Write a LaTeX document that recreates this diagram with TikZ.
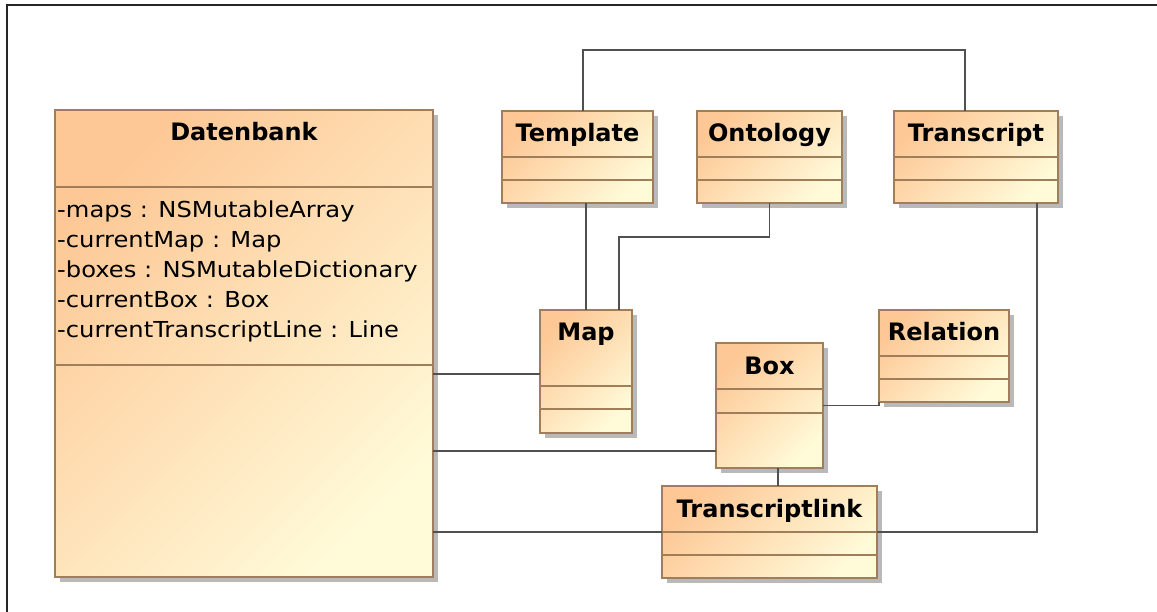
\documentclass[tikz,border=0pt]{standalone}
\usepackage{fontspec}
\setmainfont{DejaVu Sans}
\newfontfamily\attrfont[FakeStretch=1.1]{DejaVu Sans}
\usetikzlibrary{shadows,calc}

\definecolor{clsborder}{RGB}{160,126,90}
\definecolor{clstop}{RGB}{253,200,150}
\definecolor{clsbottom}{RGB}{255,250,216}
\definecolor{assocline}{RGB}{80,80,80}
\definecolor{shadowgray}{RGB}{185,185,185}

\tikzset{
  clsbox/.style={rectangle, draw=clsborder, line width=1.8pt, inner sep=0pt, outer sep=0pt,
    top color=clstop, bottom color=clsbottom, shading angle=45,
    drop shadow={shadow xshift=5pt, shadow yshift=-5pt, fill=shadowgray, opacity=1}},
  divider/.style={draw=clsborder, line width=1.8pt},
  clstitle/.style={anchor=base, inner sep=0pt, font=\bfseries\fontsize{24}{24}\selectfont},
  attr/.style={anchor=base west, inner sep=0pt, font=\attrfont\fontsize{22}{22}\selectfont},
  assoc/.style={draw=assocline, line width=1.6pt},
  frameline/.style={draw=black!85, line width=2pt}
}

% #1 name, #2/#3 left/top, #4/#5 right/bottom, #6/#7 compartment dividers, #8 class name
\newcommand\umlclass[8]{%
  \node[clsbox, anchor=north west, minimum width={(#4)-(#2)}, minimum height={(#5)-(#3)}] (#1) at (#2,#3) {};
  \draw[divider] (#1.west |- 0,#6) -- (#1.east |- 0,#6);
  \draw[divider] (#1.west |- 0,#7) -- (#1.east |- 0,#7);
  \node[clstitle] (#1-title) at ([yshift=-31pt]#1.north) {#8};
}

\begin{document}
\begin{tikzpicture}[x=1pt, y=-1pt]
\useasboundingbox (0,0) rectangle (1157,612);

% diagram frame
\draw[frameline] (7,612) coordinate (fbl) -- (7,5) coordinate (ftl) -- (1157,5) coordinate (ftr);

% classes
\umlclass{Datenbank}{55}{110}{433}{577}{187}{365}{Datenbank}
\umlclass{Template}{502}{111}{653}{203}{157}{180}{Template}
\umlclass{Ontology}{697}{111}{842}{203}{157}{180}{Ontology}
\umlclass{Transcript}{894}{111}{1058}{203}{157}{180}{Transcript}
\umlclass{Map}{540}{310}{632}{433}{386}{409}{Map}
\umlclass{Box}{716}{343}{823}{468}{389}{413}{Box}
\umlclass{Relation}{879}{310}{1009}{402}{356}{379}{Relation}
\umlclass{Transcriptlink}{662}{486}{877}{578}{532}{555}{Transcriptlink}

% attributes of Datenbank
\foreach \t [count=\i] in {-maps : NSMutableArray, -currentMap : Map, -boxes : NSMutableDictionary, -currentBox : Box, -currentTranscriptLine : Line}
  \node[attr] (attr\i) at ([xshift=2pt, yshift={-107.5pt-30pt*(\i-1)}]Datenbank.north west) {\t};

% associations
\draw[assoc] ([xshift=5.5pt]Template.north) -- ++(0,-61) -| ([xshift=-11pt]Transcript.north);
\draw[assoc] (Map.north |- Template.south) -- (Map.north);
\draw[assoc] (Ontology.south) -- ++(0,34) -| ([xshift=33pt]Map.north);
\draw[assoc] ([yshift=-2.5pt]Map.west) coordinate (dm) -- (dm -| Datenbank.east);
\draw[assoc] ([yshift=-45.5pt]Box.west) coordinate (db) -- (db -| Datenbank.east);
\draw[assoc] (Transcriptlink.west) -- (Transcriptlink.west -| Datenbank.east);
\draw[assoc] (Box.east) -| (Relation.south west);
\draw[assoc] ([xshift=8.5pt]Box.south) coordinate (bt) -- (bt |- Transcriptlink.north);
\draw[assoc] ([xshift=61pt]Transcript.south) |- (Transcriptlink.east);
\end{tikzpicture}
\end{document}
